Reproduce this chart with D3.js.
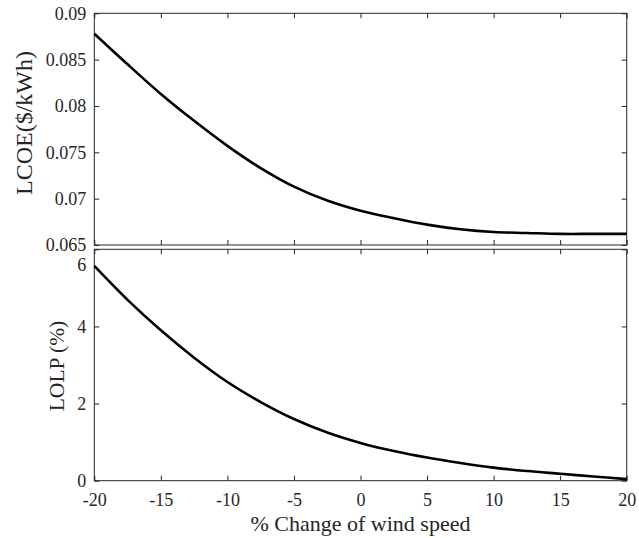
<!DOCTYPE html>
<html>
<head>
<meta charset="utf-8">
<script src="https://cdn.jsdelivr.net/npm/d3@7"></script>
<style>
    body { margin: 0; background: #fff; }
    svg { display: block; font-family: "Liberation Serif", "Times New Roman", Times, "DejaVu Serif", serif; }
    .axis path { display: none; }
    .axis line { stroke: #262626; }
    .axis text { fill: #262626; font-size: 18px; font-family: "Liberation Serif", "Times New Roman", Times, "DejaVu Serif", serif; }
    .frame { fill: none; stroke: #262626; stroke-width: 1; }
    .curve { fill: none; stroke: #000; stroke-width: 2.6; }
    .label { fill: #262626; }
</style>
</head>
<body>
<svg id="chart" width="639" height="538"></svg>
<script>
// x values: % change of wind speed
const windChange = [-20, -17.5, -15, -12.5, -10, -7.5, -5, -2.5, 0, 2.5, 5, 7.5, 10, 12.5, 15, 17.5, 20];

// LCOE ($/kWh)
const lcoe = [0.0878, 0.0845, 0.0813, 0.0784, 0.0757, 0.0733, 0.0713, 0.0698, 0.0687,
              0.0679, 0.0672, 0.0667, 0.0664, 0.0663, 0.0662, 0.0662, 0.0662];

// LOLP (%)
const lolp = [5.57, 4.69, 3.90, 3.19, 2.56, 2.04, 1.60, 1.25, 0.98,
              0.77, 0.60, 0.46, 0.34, 0.25, 0.18, 0.11, 0.04];

// tick labels
const xTicks = [-20, -15, -10, -5, 0, 5, 10, 15, 20];
const lcoeTicks = [0.065, 0.07, 0.075, 0.08, 0.085, 0.09];
const lolpTicks = [0, 2, 4, 6];

const svg = d3.select('#chart');

const left = 94.3, right = 626.7;
const width = right - left;

const x = d3.scaleLinear().domain([-20, 20]).range([0, width]);

// plain hyphen for negatives, like the original
const fmt = d => String(+d.toPrecision(6));

function panel(top, bottom, yDomain, yTicks, values, showX) {
    const height = bottom - top;
    const g = svg.append('g').attr('transform', `translate(${left},${top})`);
    const y = d3.scaleLinear().domain(yDomain).range([height, 0]);

    // left axis with labels
    const yAxis = g.append('g')
        .attr('class', 'axis')
        .call(d3.axisLeft(y).tickValues(yTicks).tickSizeInner(-5).tickSizeOuter(0)
            .tickPadding(8).tickFormat(fmt));

    // mirrored ticks
    g.append('g')
        .attr('class', 'axis')
        .attr('transform', `translate(${width},0)`)
        .call(d3.axisRight(y).tickValues(yTicks).tickSizeInner(-5).tickSizeOuter(0).tickFormat(''));

    g.append('g')
        .attr('class', 'axis')
        .call(d3.axisTop(x).tickValues(xTicks).tickSizeInner(-5).tickSizeOuter(0).tickFormat(''));

    const xAxis = g.append('g')
        .attr('class', 'axis')
        .attr('transform', `translate(0,${height})`)
        .call(d3.axisBottom(x).tickValues(xTicks).tickSizeInner(-5).tickSizeOuter(0)
            .tickPadding(13).tickFormat(showX ? fmt : ''));

    g.append('rect')
        .attr('class', 'frame')
        .attr('width', width)
        .attr('height', height);

    const line = d3.line()
        .x((d, i) => x(windChange[i]))
        .y(d => y(d))
        .curve(d3.curveCatmullRom.alpha(0.5));

    g.append('path')
        .datum(values)
        .attr('class', 'curve')
        .attr('d', line);

    return { g, y, yAxis, xAxis, height };
}

const p1 = panel(13.3, 245, [0.065, 0.09], lcoeTicks, lcoe, false);
const p2 = panel(249.3, 480.7, [0, 6], lolpTicks, lolp, true);

// the top label of the LOLP axis sits a little lower in the original
p2.yAxis.selectAll('.tick')
    .filter(d => d === 6)
    .select('text')
    .attr('dy', '1.2em');

// axis labels
svg.append('text')
    .attr('class', 'label')
    .attr('text-anchor', 'middle')
    .attr('transform', 'translate(32,123) rotate(-90)')
    .style('font-size', '24px')
    .text('LCOE($/kWh)');

svg.append('text')
    .attr('class', 'label')
    .attr('text-anchor', 'middle')
    .attr('transform', 'translate(64,366) rotate(-90)')
    .style('font-size', '21.5px')
    .text('LOLP (%)');

svg.append('text')
    .attr('class', 'label')
    .attr('text-anchor', 'middle')
    .attr('x', left + width / 2)
    .attr('y', 531)
    .style('font-size', '22px')
    .text('% Change of wind speed');
</script>
</body>
</html>
